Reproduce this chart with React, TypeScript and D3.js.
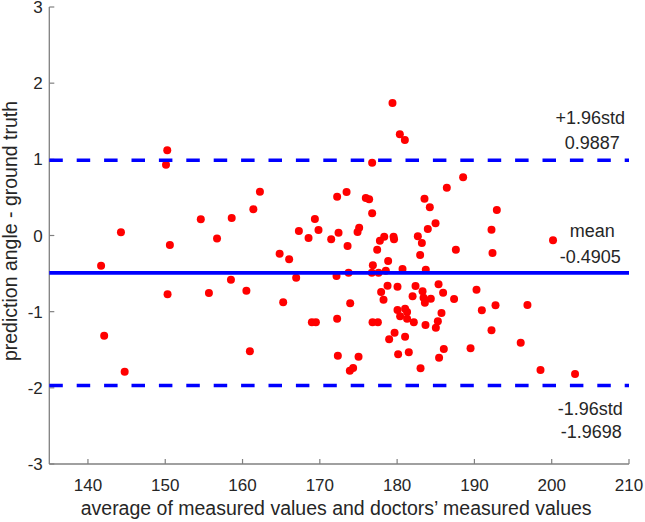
import React from 'react';
import * as d3 from 'd3';

// average of the two measurements (x) and their difference (y)
const avgValues: number[] = [
  141.7, 142.1, 144.75, 144.27, 150.1, 150.26, 150.3, 150.6, 154.6, 155.65,
  156.7, 158.6, 158.5, 160.5, 160.95, 161.4, 162.25, 164.8, 165.26, 166.03,
  179.4, 180.35, 181.0, 176.77, 188.54, 186.43, 172.24, 173.46, 175.95, 176.38,
  183.54, 184.23, 176.77, 169.36, 169.83, 167.29, 168.54, 171.47, 172.42, 173.59,
  175.09, 174.88, 184.97, 183.97, 182.68, 183.2, 182.98, 187.6, 179.54, 179.6,
  178.33, 177.77, 177.42, 166.94, 172.16, 173.72, 176.86, 178.84, 176.73, 177.6,
  178.54, 180.7, 183.71, 173.93, 178.76, 177.93, 178.24, 180.05, 182.38, 183.29,
  182.0, 183.42, 183.59, 184.36, 185.36, 185.95, 187.37, 180.05, 181.03, 181.29,
  180.39, 181.29, 182.16, 183.67, 185.74, 185.27, 185.01, 168.97, 169.49, 172.24,
  176.82, 177.51, 179.67, 178.97, 181.03, 172.33, 175.01, 174.31, 173.88, 180.13,
  181.51, 183.03, 186.04, 185.43, 189.5, 192.9, 192.21, 192.34, 200.17, 190.27,
  190.96, 192.73, 196.86, 192.21, 195.99, 198.55, 203.02,
];

const diffValues: number[] = [
  -0.397, -1.315, -1.788, 0.042, 0.93, 1.12, -0.77, -0.125, 0.213, -0.755,
  -0.04, 0.23, -0.58, -0.725, -1.52, 0.344, 0.575, -0.239, -0.877, -0.312,
  1.74, 1.329, 1.254, 0.956, 0.764, 0.628, 0.509, 0.571, 0.492, 0.475,
  0.483, 0.37, 0.292, 0.217, 0.072, 0.059, -0.033, -0.05, 0.037, -0.138,
  0.103, 0.046, 0.16, 0.085, -0.01, -0.098, -0.256, -0.186, -0.015, -0.05,
  -0.015, -0.068, -0.186, -0.554, -0.532, -0.488, -0.391, -0.335, -0.488, -0.488,
  -0.462, -0.44, -0.449, -0.89, -0.659, -0.742, -0.843, -0.672, -0.663, -0.733,
  -0.798, -0.816, -0.882, -0.829, -0.641, -0.751, -0.834, -0.978, -0.961, -1.004,
  -1.061, -1.092, -1.14, -1.175, -1.017, -1.126, -1.21, -1.14, -1.14, -1.092,
  -1.14, -1.14, -1.276, -1.363, -1.329, -1.58, -1.591, -1.74, -1.775, -1.56,
  -1.533, -1.744, -1.49, -1.604, -1.48, 0.335, 0.076, -0.23, -0.063, -0.711,
  -0.982, -0.916, -0.912, -1.245, -1.407, -1.766, -1.818,
];

const xTicks = [140, 150, 160, 170, 180, 190, 200, 210];
const yTicks = [-3, -2, -1, 0, 1, 2, 3];

const meanDiff = -0.4905;
const upperLimit = 0.9887;
const lowerLimit = -1.9698;

const W = 645;
const H = 522;
const margin = { left: 49.3, right: 16, top: 7, bottom: 58 };
const font = "'Liberation Sans', Arial, sans-serif";
const textColor = '#262626';

const App: React.FC = () => {
  const x = d3.scaleLinear().domain([135, 210]).range([margin.left, W - margin.right]);
  const y = d3.scaleLinear().domain([-3, 3]).range([H - margin.bottom, margin.top]);
  const x0 = x(135);
  const x1 = x(210);
  const yBottom = y(-3);
  const labelX = x(205);

  const hLine = (v: number, dashed: boolean) => (
    <line
      x1={x0}
      x2={x1}
      y1={y(v)}
      y2={y(v)}
      stroke="#0000ff"
      strokeWidth={3.6}
      strokeDasharray={dashed ? '13.5 13.9' : undefined}
    />
  );

  return (
    <svg
      width={W}
      height={H}
      style={{ position: 'absolute', left: 0, top: 0, background: '#fff' }}
      fontFamily={font}
    >
      {/* axes */}
      <line x1={x0} x2={x0} y1={y(3)} y2={yBottom} stroke="#808080" strokeWidth={1.3} />
      <line x1={x0} x2={x1} y1={yBottom} y2={yBottom} stroke="#808080" strokeWidth={1.3} />
      {xTicks.map((t) => (
        <g key={'x' + t}>
          <line x1={x(t)} x2={x(t)} y1={yBottom} y2={yBottom - 5} stroke="#808080" strokeWidth={1.2} />
          <text x={x(t)} y={yBottom + 27} textAnchor="middle" fontSize={17} fill={textColor}>
            {t}
          </text>
        </g>
      ))}
      {yTicks.map((t) => (
        <g key={'y' + t}>
          <line x1={x0} x2={x0 + 5} y1={y(t)} y2={y(t)} stroke="#808080" strokeWidth={1.2} />
          <text x={x0 - 6.5} y={y(t)} dy="0.36em" textAnchor="end" fontSize={17} fill={textColor}>
            {t}
          </text>
        </g>
      ))}
      <text x={(x0 + x1) / 2 - 3} y={515} textAnchor="middle" fontSize={19.5} fill={textColor}>
        average of measured values and doctors’ measured values
      </text>
      <text
        transform="translate(17, 231) rotate(-90)"
        textAnchor="middle"
        fontSize={19.5}
        fill={textColor}
      >
        prediction angle - ground truth
      </text>

      {/* points */}
      {avgValues.map((a, i) => (
        <circle key={i} cx={x(a)} cy={y(diffValues[i])} r={4} fill="#ff0000" />
      ))}

      {/* mean and limits of agreement */}
      {hLine(upperLimit, true)}
      {hLine(meanDiff, false)}
      {hLine(lowerLimit, true)}

      <g fontSize={18} fill={textColor} textAnchor="middle">
        <text x={labelX} y={y(upperLimit) - 35.8}>+1.96std</text>
        <text x={labelX + 2} y={y(upperLimit) - 11.5}>{upperLimit.toFixed(4)}</text>
        <text x={labelX + 2} y={y(meanDiff) - 35.6}>mean</text>
        <text x={labelX} y={y(meanDiff) - 9.6}>{meanDiff.toFixed(4)}</text>
        <text x={labelX} y={y(lowerLimit) + 29.5}>-1.96std</text>
        <text x={labelX + 1} y={y(lowerLimit) + 52.8}>{lowerLimit.toFixed(4)}</text>
      </g>
    </svg>
  );
};

export default App;
